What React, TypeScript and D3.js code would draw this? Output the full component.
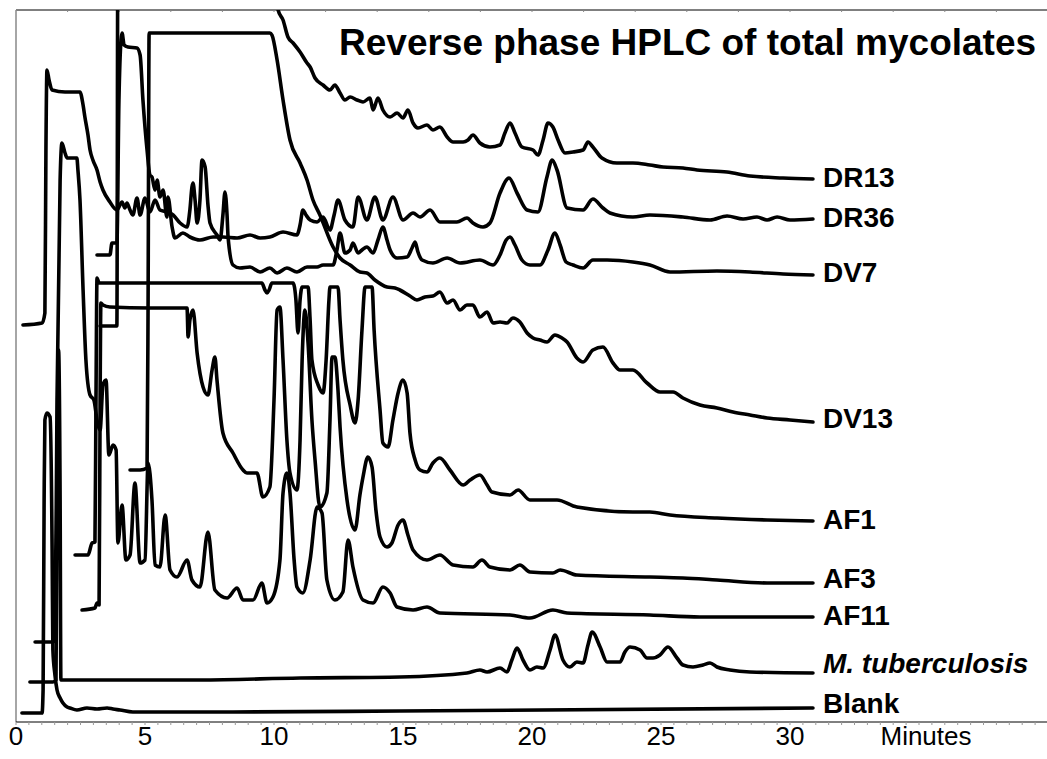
import React from 'react';
import * as d3 from 'd3';

type Pt = [number, number];

// time (minutes) and detector signal (arbitrary units)
const dr13: Pt[] = [[3.26,396],[3.91,396],[3.95,800],[10.05,800],[10.16,712],[10.35,702],[10.54,685],[10.74,679],[11.01,670],[11.28,659],[11.40,655],[11.59,644],[11.90,637],[12.17,632],[12.36,637],[12.56,629],[12.75,622],[12.95,625],[13.22,622],[13.45,620],[13.72,624],[13.84,612],[14.03,624],[14.22,612],[14.50,605],[14.77,609],[15.00,604],[15.19,612],[15.39,599],[15.58,594],[15.93,597],[16.16,592],[16.43,595],[16.71,585],[16.94,580],[17.33,580],[17.52,582],[17.71,587],[17.98,579],[18.37,575],[18.76,577],[18.95,589],[19.15,599],[19.34,589],[19.61,575],[20.04,572],[20.23,567],[20.43,582],[20.62,599],[20.81,595],[21.01,582],[21.28,569],[21.59,570],[21.98,572],[22.17,580],[22.36,575],[22.71,564],[23.29,559],[23.91,559],[24.57,557],[25.08,555],[25.85,554],[26.40,552],[27.56,550],[28.45,546],[29.73,544],[30.89,543]];

const dr36: Pt[] = [[3.14,467],[3.64,467],[3.72,479],[3.91,479],[3.99,622],[4.07,682],[4.11,689],[4.19,677],[4.34,675],[4.69,674],[4.81,667],[4.92,622],[5.08,572],[5.19,547],[5.27,545],[5.39,532],[5.47,542],[5.58,525],[5.70,532],[5.85,505],[5.89,525],[6.05,495],[6.16,484],[6.47,489],[6.74,485],[7.13,482],[7.64,485],[8.02,485],[8.57,484],[9.07,487],[9.46,484],[9.84,485],[10.35,490],[10.89,487],[11.01,497],[11.12,512],[11.24,507],[11.40,502],[11.67,500],[11.90,505],[12.17,492],[12.33,507],[12.48,522],[12.75,502],[13.06,495],[13.26,525],[13.60,502],[13.91,525],[14.22,502],[14.61,525],[15.00,502],[15.39,509],[15.66,505],[16.05,512],[16.43,500],[17.09,500],[17.48,504],[17.71,499],[18.10,495],[18.37,499],[18.76,529],[19.11,544],[19.42,529],[19.81,512],[20.23,510],[20.58,545],[20.78,562],[20.97,552],[21.36,514],[21.98,512],[22.36,523],[22.75,514],[23.02,509],[23.91,505],[24.57,507],[25.85,505],[26.90,502],[27.56,506],[28.18,503],[28.72,505],[29.11,502],[29.50,505],[30.00,502],[30.89,503]];

const dv7: Pt[] = [[0.27,397],[1.01,399],[1.12,409],[1.16,572],[1.20,652],[1.28,642],[1.40,632],[1.90,630],[2.48,630],[2.60,617],[2.67,605],[2.79,587],[2.87,572],[2.98,562],[3.14,552],[3.26,540],[3.37,532],[3.64,520],[3.91,512],[4.11,520],[4.22,514],[4.30,519],[4.42,512],[4.53,507],[4.69,524],[4.81,507],[5.00,524],[5.19,510],[5.39,522],[5.58,512],[5.85,510],[6.09,507],[6.36,499],[6.63,495],[6.74,512],[6.82,535],[6.86,539],[6.94,522],[7.02,499],[7.13,522],[7.21,562],[7.33,555],[7.44,517],[7.52,499],[7.79,487],[7.91,482],[8.02,507],[8.10,530],[8.18,507],[8.22,485],[8.41,457],[8.68,454],[9.07,455],[9.46,450],[9.84,454],[10.12,449],[10.50,454],[10.89,450],[11.28,455],[11.67,455],[11.90,457],[12.29,457],[12.44,472],[12.56,489],[12.75,469],[12.95,472],[13.06,479],[13.26,469],[13.41,472],[13.60,475],[13.84,469],[14.03,482],[14.22,495],[14.38,482],[14.50,472],[14.77,464],[15.16,465],[15.35,474],[15.47,480],[15.58,470],[15.74,462],[16.16,459],[16.71,464],[17.21,459],[17.98,462],[18.49,457],[18.76,467],[19.00,482],[19.15,485],[19.34,477],[19.61,462],[19.92,457],[20.31,457],[20.62,472],[20.89,489],[21.09,477],[21.32,460],[21.59,457],[21.98,454],[22.36,462],[22.91,462],[23.91,460],[24.57,457],[25.35,450],[27.17,451],[28.45,450],[29.73,448],[30.89,447]];

const dv13: Pt[] = [[4.42,252],[4.81,252],[5.08,254],[5.12,422],[5.16,689],[5.58,689],[7.13,689],[9.07,689],[9.84,689],[9.92,687],[10.12,662],[10.35,622],[10.62,582],[11.01,559],[11.28,542],[11.51,522],[11.78,507],[12.29,475],[12.56,464],[12.95,457],[13.33,450],[13.60,449],[13.91,442],[14.38,435],[14.69,434],[14.88,432],[15.27,426],[15.54,422],[15.85,425],[16.16,426],[16.43,430],[16.71,419],[16.94,422],[17.21,412],[17.48,417],[17.71,417],[17.98,405],[18.26,410],[18.49,399],[18.76,400],[19.03,399],[19.26,404],[19.53,400],[19.81,389],[20.04,384],[20.31,382],[20.58,380],[20.89,387],[21.16,384],[21.36,380],[21.74,364],[21.98,360],[22.36,372],[22.75,375],[23.14,359],[23.41,352],[23.91,352],[24.46,339],[24.96,330],[25.47,330],[25.85,324],[26.51,317],[27.17,314],[27.79,310],[28.45,307],[29.11,304],[30.00,302],[30.89,300]];

const af1: Pt[] = [[2.29,167],[2.79,167],[2.95,179],[3.06,180],[3.10,322],[3.14,444],[3.22,439],[5.19,439],[7.13,439],[9.07,439],[9.53,439],[9.65,432],[9.73,429],[9.81,432],[9.92,439],[10.74,439],[10.85,422],[10.93,389],[11.01,422],[11.09,435],[11.32,435],[11.40,402],[11.47,362],[11.71,337],[11.90,329],[12.02,362],[12.13,422],[12.17,435],[12.48,435],[12.56,402],[12.67,362],[12.95,317],[13.14,299],[13.26,322],[13.41,392],[13.53,435],[13.80,435],[13.88,392],[14.11,312],[14.22,279],[14.42,275],[14.61,302],[14.81,329],[15.00,342],[15.16,329],[15.27,289],[15.47,262],[15.66,252],[15.93,250],[16.16,259],[16.43,264],[16.82,252],[17.33,237],[17.60,242],[17.98,247],[18.26,237],[18.45,230],[19.15,227],[19.46,232],[19.92,222],[20.97,222],[21.74,215],[23.91,210],[24.57,210],[25.35,207],[27.17,204],[29.11,202],[30.89,201]];

const af3: Pt[] = [[2.56,112],[3.06,114],[3.14,119],[3.22,117],[3.26,322],[3.29,419],[3.37,417],[3.64,415],[5.19,414],[6.63,414],[6.67,385],[6.74,402],[6.86,412],[7.02,369],[7.25,335],[7.44,327],[7.60,352],[7.71,365],[7.79,342],[8.02,289],[8.41,269],[8.80,252],[8.95,249],[9.34,249],[9.57,225],[9.84,235],[10.00,322],[10.12,412],[10.23,415],[10.35,362],[10.50,282],[10.62,249],[10.89,232],[11.01,282],[11.09,362],[11.20,412],[11.32,379],[11.47,302],[11.59,262],[11.78,215],[12.05,229],[12.17,302],[12.25,365],[12.36,365],[12.48,332],[12.56,295],[12.83,222],[13.14,192],[13.33,227],[13.45,245],[13.64,265],[13.80,255],[13.95,212],[14.11,185],[14.38,175],[14.57,179],[14.81,197],[15.00,202],[15.19,187],[15.39,172],[15.93,162],[16.43,167],[16.94,157],[17.71,155],[18.06,162],[18.37,155],[19.15,152],[19.53,157],[19.92,150],[20.81,149],[21.09,152],[21.74,147],[24.57,145],[25.85,144],[27.17,142],[29.11,139],[30.89,139]];

const af11: Pt[] = [[0.74,80],[1.43,80],[1.51,82],[1.59,322],[1.71,542],[1.78,579],[1.90,569],[1.98,564],[2.36,564],[2.40,552],[2.48,522],[2.60,432],[2.71,362],[2.87,327],[3.02,322],[3.14,302],[3.26,292],[3.37,337],[3.49,342],[3.60,267],[3.76,277],[3.88,272],[3.95,179],[4.11,217],[4.26,162],[4.42,167],[4.61,239],[4.81,159],[5.00,162],[5.12,259],[5.27,222],[5.39,157],[5.58,155],[5.78,207],[5.97,152],[6.24,145],[6.63,162],[6.82,142],[7.13,135],[7.44,190],[7.71,132],[8.18,124],[8.57,134],[8.80,122],[9.19,122],[9.53,139],[9.73,119],[9.96,125],[10.23,162],[10.35,229],[10.50,249],[10.62,229],[10.78,162],[10.89,135],[11.12,129],[11.40,162],[11.67,215],[11.86,209],[12.05,142],[12.36,122],[12.67,130],[12.87,182],[13.06,155],[13.45,122],[13.84,119],[14.22,135],[14.50,129],[14.77,115],[15.39,112],[15.93,115],[16.43,109],[19.15,107],[19.92,104],[20.81,112],[21.36,109],[24.57,107],[26.51,105],[30.89,105]];

const mtb: Pt[] = [[0.54,40],[1.43,40],[1.55,42],[1.59,222],[1.65,372],[1.71,222],[1.74,42],[1.90,42],[3.26,42],[7.13,42],[11.01,44],[14.88,45],[17.48,49],[17.98,52],[18.26,50],[18.76,54],[19.03,50],[19.22,62],[19.42,74],[19.65,62],[19.92,52],[20.19,55],[20.43,54],[20.70,72],[20.89,87],[21.20,62],[21.47,55],[21.74,60],[21.98,59],[22.17,77],[22.33,90],[22.64,75],[22.91,60],[23.41,60],[23.60,70],[23.80,75],[24.19,72],[24.46,64],[24.69,64],[24.96,67],[25.27,75],[25.62,64],[25.85,57],[26.24,55],[26.63,57],[26.90,59],[27.17,55],[27.67,52],[28.45,50],[30.89,49]];

const blank: Pt[] = [[0.23,9],[1.01,9],[1.05,32],[1.09,222],[1.12,302],[1.20,309],[1.32,305],[1.40,172],[1.43,72],[1.51,47],[1.59,32],[1.71,24],[1.82,19],[1.98,15],[2.09,14],[2.36,12],[2.75,14],[3.14,13],[3.53,14],[3.76,13],[4.03,12],[4.53,10],[8.41,10],[14.88,11],[30.89,14]];

const seriesNames = ['DR13', 'DR36', 'DV7', 'DV13', 'AF1', 'AF3', 'AF11', 'M. tuberculosis', 'Blank'];
const seriesData = [dr13, dr36, dv7, dv13, af1, af3, af11, mtb, blank];
const labelDy = [8, 8, 7, 6, 8, 5, 8, 0, 5];

const majorTicks = [0, 5, 10, 15, 20, 25, 30];
const title = 'Reverse phase HPLC of total mycolates';
const axisTitle = 'Minutes';

const W = 1047;
const H = 759;
const PL = 16, PT = 10, PR = 1048, PB = 722;
const FONT = '"Liberation Sans", Arial, Helvetica, sans-serif';

export default function App() {
  const x = d3.scaleLinear().domain([0, 40]).range([PL, PR]);
  const y = d3.scaleLinear().domain([0, 712]).range([PB, PT]);
  const line = d3.line<Pt>().x(d => x(d[0])).y(d => y(d[1])).curve(d3.curveMonotoneX);
  const minor = d3.range(0, 40.001, 0.5);
  const topTicks = d3.range(2, 40.001, 2);

  return (
    <svg width={W} height={H} style={{ position: 'absolute', left: 0, top: 0, background: '#fff' }} fontFamily={FONT}>
      <rect x={0} y={0} width={W} height={H} fill="#fff" />
      <defs>
        <clipPath id="plotClip">
          <rect x={PL} y={PT} width={PR - PL} height={PB - PT} />
        </clipPath>
      </defs>
      {/* frame */}
      <line x1={PL} x2={W} y1={PT} y2={PT} stroke="#000" strokeWidth={1} />
      {topTicks.map(t => (
        <line key={'tt' + t} x1={x(t)} x2={x(t)} y1={PT} y2={PT + 2} stroke="#888" strokeWidth={1} />
      ))}
      <line x1={PL} x2={PL} y1={PT} y2={PB} stroke="#888" strokeWidth={1.5} />
      <line x1={PL} x2={W} y1={PB} y2={PB} stroke="#000" strokeWidth={1} />
      {minor.map(t => (
        <line key={'mt' + t} x1={x(t)} x2={x(t)} y1={PB} y2={PB + 3} stroke="#999" strokeWidth={1} />
      ))}
      {majorTicks.map(t => (
        <text key={'lb' + t} x={x(t)} y={745} fontSize={26} textAnchor="middle" fill="#000">{t}</text>
      ))}
      <text x={x(35) + 7} y={745} fontSize={26} textAnchor="middle" fill="#000">{axisTitle}</text>

      <g clipPath="url(#plotClip)">
        {seriesData.map((d, i) => (
          <path key={seriesNames[i]} d={line(d) || ''} fill="none" stroke="#000" strokeWidth={3.6}
            strokeLinejoin="round" strokeLinecap="round" />
        ))}
      </g>

      {seriesData.map((d, i) => {
        const last = d[d.length - 1];
        return (
          <text key={'l' + i} x={x(last[0]) + 10} y={y(last[1]) + labelDy[i]} fontSize={28} fontWeight="bold"
            fontStyle={i === 7 ? 'italic' : 'normal'} fill="#000">{seriesNames[i]}</text>
        );
      })}

      <text x={339} y={55} fontSize={37} fontWeight="bold" fill="#000">{title}</text>
    </svg>
  );
}
